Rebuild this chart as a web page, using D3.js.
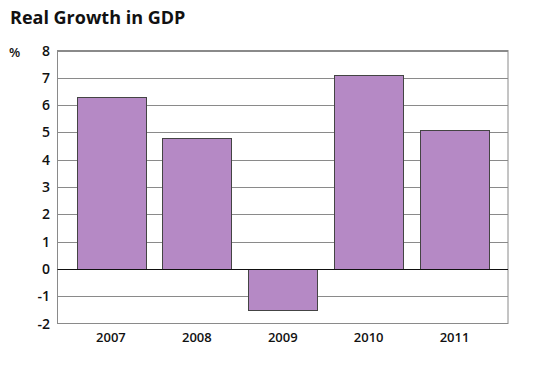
<!DOCTYPE html>
<html><head><meta charset="utf-8">
<script src="https://cdn.jsdelivr.net/npm/d3@7"></script>
<style>body{margin:0;background:#fff}</style>
</head><body>
<svg id="c" width="553" height="378"></svg>
<script>
const years = ["2007","2008","2009","2010","2011"];
const growth = [6.3, 4.8, -1.5, 7.1, 5.1];
const yTicks = [-2,-1,0,1,2,3,4,5,6,7,8];

(function(){
const svg = d3.select("#c");
const font = "'Open Sans', 'DejaVu Sans', sans-serif";
const mL = 57.5, mR = 508, mT = 50.5, mB = 323.5;

const x = d3.scaleBand().domain(years).range([mL, mR]).paddingInner(0.2).paddingOuter(0.222);
const y = d3.scaleLinear().domain([-2, 8]).range([mB, mT]);

svg.append("text").attr("x", 10).attr("y", 24).attr("font-family", font)
  .attr("font-weight", "bold").attr("font-size", 18).attr("fill", "#111").text("Real Growth in GDP");
svg.append("text").attr("x", 9).attr("y", 57).attr("font-family", font)
  .attr("font-weight", "600").attr("font-size", 13).attr("fill", "#111").text("%");

// grid lines
svg.append("g").selectAll("line").data(yTicks.filter(d => d !== 0 && d !== -2)).join("line")
  .attr("x1", mL).attr("x2", mR)
  .attr("y1", d => Math.round(y(d)) + 0.5).attr("y2", d => Math.round(y(d)) + 0.5)
  .attr("stroke", "#8a8a8a").attr("stroke-width", 1);

// frame
svg.append("rect").attr("x", mL).attr("y", mT).attr("width", mR - mL).attr("height", mB - mT)
  .attr("fill", "none").attr("stroke", "#8a8a8a").attr("stroke-width", 1);

// bars
svg.append("g").selectAll("rect").data(years).join("rect")
  .attr("x", d => Math.round(x(d)) + 0.5)
  .attr("width", Math.round(x.bandwidth()))
  .attr("y", (d, i) => Math.round(y(Math.max(0, growth[i]))) + 0.5)
  .attr("height", (d, i) => Math.round(Math.abs(y(growth[i]) - y(0))))
  .attr("fill", "#b589c5").attr("stroke", "#444").attr("stroke-width", 1);

// zero line
svg.append("line").attr("x1", mL).attr("x2", mR)
  .attr("y1", Math.round(y(0)) + 0.5).attr("y2", Math.round(y(0)) + 0.5)
  .attr("stroke", "#111").attr("stroke-width", 1);

// y tick labels
svg.append("g").selectAll("text").data(yTicks).join("text")
  .attr("x", 50).attr("y", d => y(d)).attr("dy", "0.36em")
  .attr("text-anchor", "end").attr("font-family", font).attr("font-weight", "600")
  .attr("font-size", 14).attr("fill", "#111").text(d => d);

// x labels
svg.append("g").selectAll("text").data(years).join("text")
  .attr("x", d => x(d) + x.bandwidth() / 2).attr("y", 342)
  .attr("text-anchor", "middle").attr("font-family", font).attr("font-weight", "600")
  .attr("font-size", 13).attr("fill", "#111").text(d => d);
})();
</script>
</body></html>
